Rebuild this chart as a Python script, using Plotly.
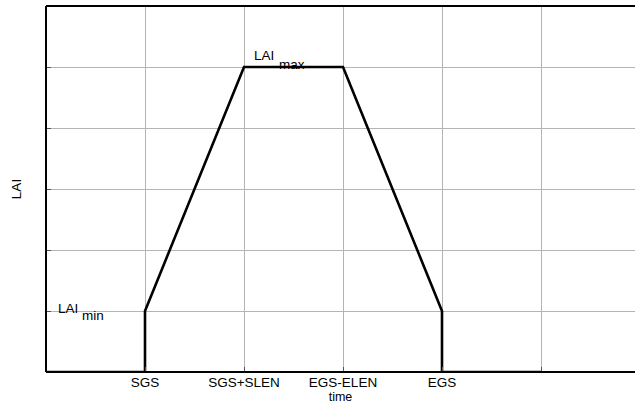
import plotly.graph_objects as go

# Phenology model: LAI over the growing season
time_pts = [0, 1, 1, 2, 3, 4, 4, 5]
lai_vals = [0, 0, 1, 5, 5, 1, 0, 0]

x_tick_vals = [1, 2, 3, 4]
x_tick_text = ["SGS", "SGS+SLEN", "EGS-ELEN", "EGS"]
x_extra_grid = [5]
y_tick_vals = [1, 2, 3, 4, 5]

lai_min = 1
lai_max = 5

FAM = "Liberation Sans, Arial, sans-serif"
font = dict(family=FAM, size=13.5, color="black")
GRID = "#b4b4b4"

fig = go.Figure()
fig.add_trace(go.Scatter(
    x=time_pts, y=lai_vals, mode="lines",
    line=dict(color="black", width=2.6),
    showlegend=False, hoverinfo="skip",
))

# "LAI" with a full-size subscript, as two pieces of text
def label_with_sub(x_main, x_sub, y, main_shift, sub_shift, sub):
    fig.add_annotation(x=x_main, y=y, text="LAI", showarrow=False,
                       xanchor="left", yanchor="middle", yshift=main_shift, font=font)
    fig.add_annotation(x=x_sub, y=y, text=sub, showarrow=False,
                       xanchor="left", yanchor="middle", yshift=sub_shift, font=font)

label_with_sub(0.10, 0.345, lai_min, 2.5, -4.0, "min")
label_with_sub(2.08, 2.335, lai_max, 11.5, 3.0, "max")

# axes frame: left, bottom and top edges (the right side stays open)
frame = dict(type="line", xref="paper", yref="paper", line=dict(color="black", width=2), layer="above")
fig.add_shape(x0=0, x1=0, y0=0, y1=1, **frame)
fig.add_shape(x0=0, x1=1, y0=0, y1=0, **frame)
fig.add_shape(x0=0, x1=1, y0=1, y1=1, **frame)

fig.update_layout(
    width=635, height=406,
    margin=dict(l=46, r=0, t=6, b=34),
    plot_bgcolor="white", paper_bgcolor="white",
    font=font,
    hovermode=False,
    xaxis=dict(
        range=[0, 589 / 99], tickmode="array", tickvals=x_tick_vals, ticktext=x_tick_text,
        showgrid=True, gridcolor=GRID, gridwidth=1,
        showline=False, ticks="inside", ticklen=5, tickcolor="#555", zeroline=False,
        showspikes=False,
        minor=dict(tickmode="array", tickvals=x_extra_grid, showgrid=True,
                   gridcolor=GRID, gridwidth=1, ticks="inside", ticklen=5, tickcolor="#555"),
        title=dict(text="time", standoff=2, font=dict(size=12.5)),
        tickfont=dict(size=13.5),
    ),
    yaxis=dict(
        range=[0, 6], tickmode="array", tickvals=y_tick_vals, showticklabels=False,
        showgrid=True, gridcolor=GRID, gridwidth=1,
        showline=False, ticks="inside", ticklen=5, tickcolor="#555", zeroline=False,
        showspikes=False,
        title=dict(text="LAI", standoff=20, font=dict(size=13.5)),
    ),
)

# a static figure: no mode bar, drag handles or hover layers
fig.write_html(
    "out.html",
    config=dict(staticPlot=True, displayModeBar=False),
    post_script=(
        "document.documentElement.style.overflow='hidden';"
        "document.body.style.overflow='hidden';"
        "document.body.style.margin='0';"
    ),
)
